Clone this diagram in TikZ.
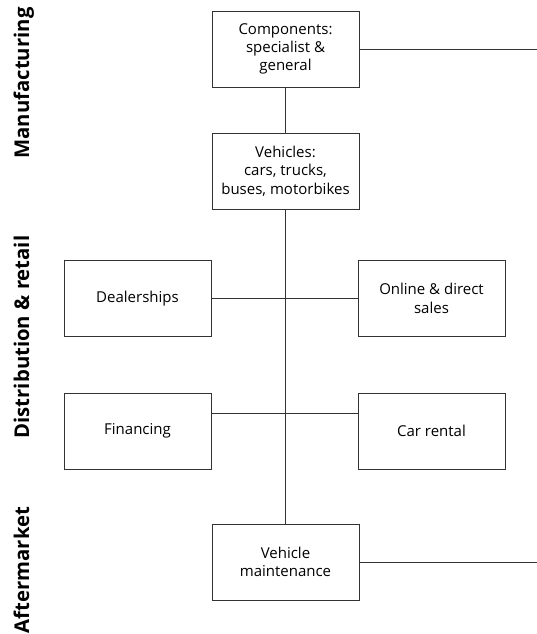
\documentclass[tikz,border=0pt]{standalone}
\usepackage{fontspec}
\setmainfont{Open Sans}
\usetikzlibrary{calc}
\tikzset{
  box/.style={draw=black!80, line width=0.8pt, minimum width=147pt, minimum height=76pt,
    inner sep=0pt, align=center, font=\fontsize{15}{18.3}\selectfont},
  conn/.style={draw=black!80, line width=0.8pt},
  side/.style={rotate=90, anchor=base, font=\fontsize{20.3}{24}\selectfont\bfseries}
}
\begin{document}
\begin{tikzpicture}[x=1pt,y=-1pt]
\useasboundingbox (0,0) rectangle (537,634);
\node[side] (lman) at (29,83) {Manufacturing};
\node[side] (ldist) at (29,337) {Distribution \& retail};
\node[side] (laft) at (29,570) {Aftermarket};

\node[box] (comp) at (285.5,49) {Components:\\specialist \&\\general};
\node[box] (veh) at (285.5,171) {Vehicles:\\cars, trucks,\\buses, motorbikes};
\node[box] (deal) at (137.5,298.5) {Dealerships};
\node[box] (online) at (431.5,298.5) {Online \& direct\\sales};
\node[box] (fin) at (137.5,431) {Financing};
\node[box] (rent) at (431.5,431) {Car rental};
\node[box] (maint) at (285.5,562) {Vehicle\\maintenance};

\coordinate (rtop) at (537,49);
\coordinate (rbot) at (537,562);
\coordinate (finj) at ($(fin.north east)!0.276!(fin.south east)$);

\draw[conn] (comp.south) -- (veh.north);
\draw[conn] (veh.south) -- (maint.north);
\draw[conn] (comp.east) -- (rtop);
\draw[conn] (maint.east) -- (rbot);
\draw[conn] (deal.east) -- (online.west);
\draw[conn] (finj) -- (finj -| rent.west);
\end{tikzpicture}
\end{document}
